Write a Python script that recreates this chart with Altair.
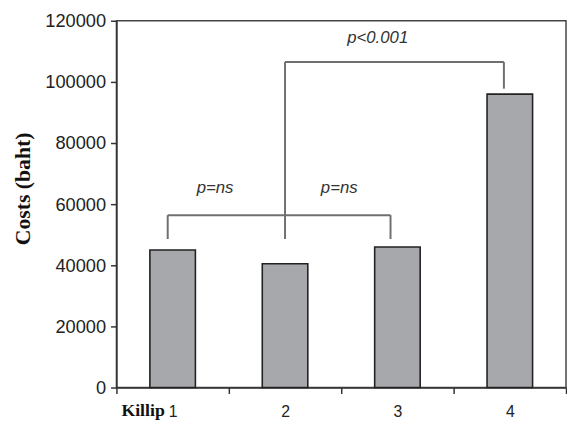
import altair as alt
import pandas as pd

categories = ["1", "2", "3", "4"]
costs = [45000, 40500, 46000, 96000]

# bracket annotations (values in baht on the y scale)
low_bracket_from, low_bracket_to, low_bracket_y = "1", "3", 56400
low_leg_bottom = 48600
high_bracket_from, high_bracket_to, high_bracket_y = "2", "4", 106500
high_leg_bottom = 97800

ann_labels = ["p=ns", "p=ns", "p<0.001"]
ann_cats = ["1", "2", "3"]
ann_y = [65200, 65200, 114300]

bars_df = pd.DataFrame({"killip": categories, "cost": costs})

W, H = 456, 372
line_color = "#6f6f6f"

x_enc = alt.X(
    "killip:N",
    sort=categories,
    scale=alt.Scale(domain=categories, paddingInner=0, paddingOuter=0),
    axis=alt.Axis(
        title=None,
        labelAngle=0,
        tickBand="extent",
        tickSize=6,
        labelPadding=10,
        labelFont="Liberation Sans",
        labelFontSize=16,
        labelColor="#222222",
        domainColor="#333333",
        domainWidth=1.5,
        tickColor="#333333",
        tickWidth=1.5,
    ),
)

y_enc = alt.Y(
    "cost:Q",
    scale=alt.Scale(domain=[0, 120000], nice=False),
    axis=alt.Axis(
        title="Costs (baht)",
        values=[0, 20000, 40000, 60000, 80000, 100000, 120000],
        format="d",
        grid=False,
        tickSize=6,
        labelPadding=5,
        labelFont="Liberation Sans",
        labelFontSize=18.5,
        labelColor="#222222",
        domainColor="#333333",
        domainWidth=1.5,
        tickColor="#333333",
        tickWidth=1.5,
        titleFont="Liberation Serif",
        titleFontWeight="bold",
        titleFontSize=22,
        titleColor="#111111",
        titleAngle=-90,
        titleX=-95,
        titleY=170,
        titleBaseline="middle",
        titleAlign="center",
    ),
)

bars = alt.Chart(bars_df).mark_bar(
    width=alt.RelativeBandSize(0.405),
    fill="#a7a8ac",
    stroke="#222222",
    strokeWidth=1.6,
).encode(x=x_enc, y=y_enc)

xs = alt.X("killip:N", sort=categories)

# horizontal bracket lines
low_h = alt.Chart(pd.DataFrame({"killip": [low_bracket_from], "k2": [low_bracket_to], "cost": [low_bracket_y]})).mark_rule(
    color=line_color, strokeWidth=2, xOffset=-5, x2Offset=-7
).encode(x=xs, x2="k2:N", y="cost:Q")

high_h = alt.Chart(pd.DataFrame({"killip": [high_bracket_from], "k2": [high_bracket_to], "cost": [high_bracket_y]})).mark_rule(
    color=line_color, strokeWidth=2, x2Offset=-6
).encode(x=xs, x2="k2:N", y="cost:Q")

# vertical legs
leg1 = alt.Chart(pd.DataFrame({"killip": [low_bracket_from], "cost": [low_leg_bottom], "c2": [low_bracket_y]})).mark_rule(
    color=line_color, strokeWidth=2, xOffset=-5
).encode(x=xs, y="cost:Q", y2="c2:Q")

leg3 = alt.Chart(pd.DataFrame({"killip": [low_bracket_to], "cost": [low_leg_bottom], "c2": [low_bracket_y]})).mark_rule(
    color=line_color, strokeWidth=2, xOffset=-7
).encode(x=xs, y="cost:Q", y2="c2:Q")

leg_mid = alt.Chart(pd.DataFrame({"killip": [high_bracket_from], "cost": [low_leg_bottom], "c2": [high_bracket_y]})).mark_rule(
    color=line_color, strokeWidth=2
).encode(x=xs, y="cost:Q", y2="c2:Q")

leg4 = alt.Chart(pd.DataFrame({"killip": [high_bracket_to], "cost": [high_leg_bottom], "c2": [high_bracket_y]})).mark_rule(
    color=line_color, strokeWidth=2, xOffset=-6
).encode(x=xs, y="cost:Q", y2="c2:Q")

ann_df = pd.DataFrame({"killip": ann_cats, "cost": ann_y, "label": ann_labels})

def ann(i, dx):
    return alt.Chart(ann_df.iloc[[i]]).mark_text(
        font="Liberation Sans", fontStyle="italic", fontSize=17, color="#333333", dx=dx, baseline="middle"
    ).encode(x=xs, y="cost:Q", text="label:N")

t1 = ann(0, 43)
t2 = ann(1, 55)
t3 = ann(2, -20)

killip = alt.Chart(pd.DataFrame({"killip": ["1"], "label": ["Killip"]})).mark_text(
    font="Liberation Serif", fontWeight="bold", fontSize=18, color="#111111",
    align="right", baseline="alphabetic", dx=-8
).encode(x=xs, y=alt.value(H + 29), text="label:N")

chart = alt.layer(bars, low_h, high_h, leg1, leg3, leg_mid, leg4, t1, t2, t3, killip).properties(
    width=W,
    height=H,
    autosize="none",
    padding={"left": 110, "top": 10, "right": 1, "bottom": 33},
    background="white",
).configure_view(stroke="#444444", strokeWidth=1.5)

chart.save("out.html", embed_options={"renderer": "svg", "actions": False})
